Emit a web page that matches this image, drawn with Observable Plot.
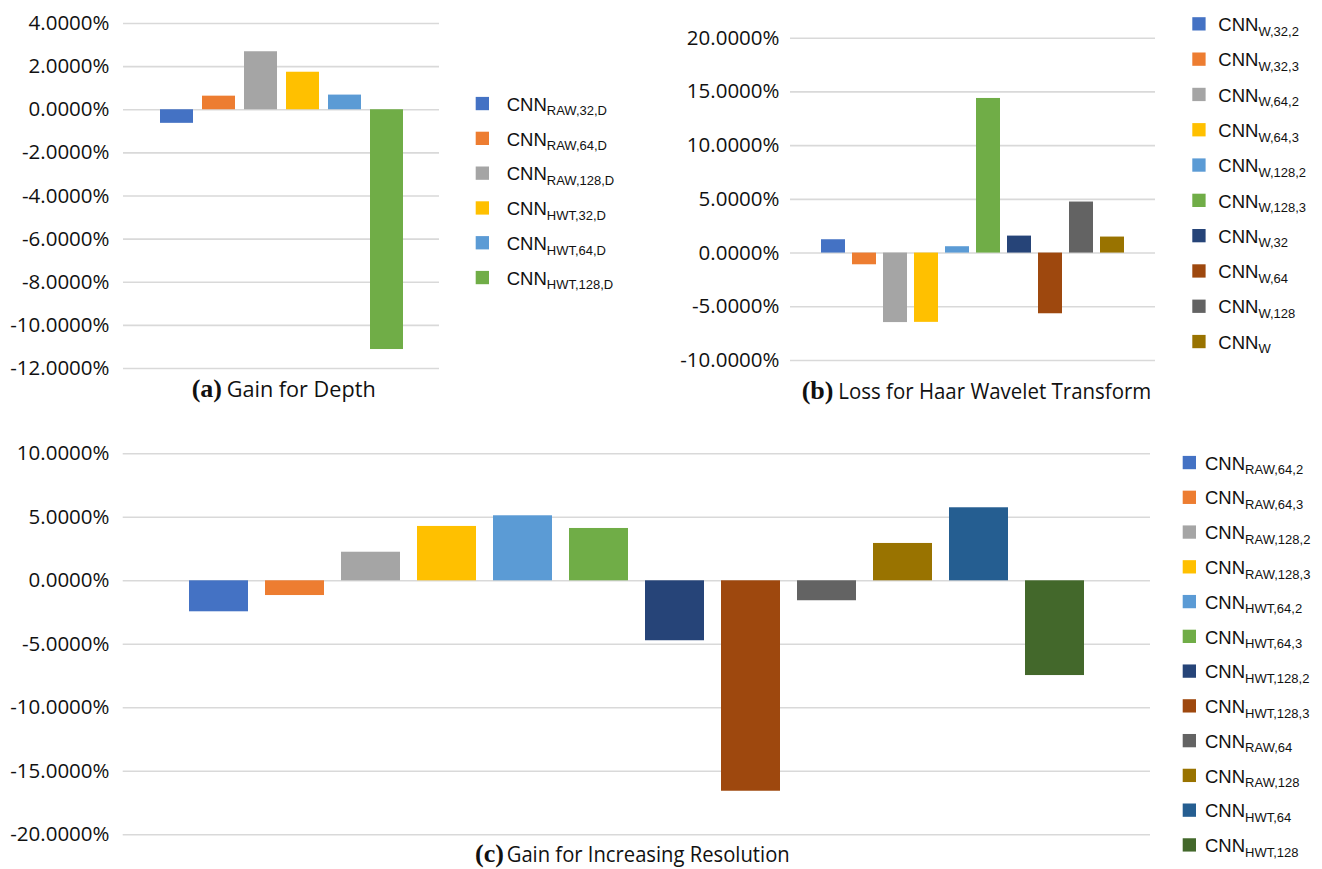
<!DOCTYPE html>
<html>
<head>
<meta charset="utf-8">
<script src="https://cdn.jsdelivr.net/npm/d3@7"></script>
<script src="https://cdn.jsdelivr.net/npm/@observablehq/plot@0.6"></script>
<style>
  html, body { margin: 0; padding: 0; background: #ffffff; }
  #fig { position: relative; width: 1322px; height: 869px; background: #ffffff; overflow: hidden; }
  #fig > svg, #fig > figure { position: absolute; margin: 0; }
  #overlay { left: 0; top: 0; pointer-events: none; }
</style>
</head>
<body>
<div id="fig"></div>
<script>
// Office colour cycle used by all three panels
const palette = ["#4472C4", "#ED7D31", "#A5A5A5", "#FFC000", "#5B9BD5", "#70AD47",
                 "#264478", "#9E480E", "#636363", "#997300", "#255E91", "#43682B"];

// (a) Gain for Depth
const depthSeries = ["RAW,32,D", "RAW,64,D", "RAW,128,D", "HWT,32,D", "HWT,64,D", "HWT,128,D"];
const depthValues = [-0.63, 0.63, 2.69, 1.74, 0.68, -11.12];
const depthTicks = [-12, -10, -8, -6, -4, -2, 0, 2, 4];

// (b) Loss for Haar Wavelet Transform
const haarSeries = ["W,32,2", "W,32,3", "W,64,2", "W,64,3", "W,128,2", "W,128,3", "W,32", "W,64", "W,128", "W"];
const haarValues = [1.24, -1.09, -6.47, -6.45, 0.59, 14.39, 1.58, -5.65, 4.75, 1.49];
const haarTicks = [-10, -5, 0, 5, 10, 15, 20];

// (c) Gain for Increasing Resolution
const resSeries = ["RAW,64,2", "RAW,64,3", "RAW,128,2", "RAW,128,3", "HWT,64,2", "HWT,64,3",
                   "HWT,128,2", "HWT,128,3", "RAW,64", "RAW,128", "HWT,64", "HWT,128"];
const resValues = [-2.44, -1.16, 2.25, 4.28, 5.12, 4.12, -4.72, -16.57, -1.57, 2.94, 5.75, -7.46];
const resTicks = [-20, -15, -10, -5, 0, 5, 10];

const fig = document.getElementById("fig");

function panel(o) {
  const data = o.series.map((s, i) => ({key: s, value: o.values[i]}));
  const colors = palette.slice(0, o.series.length);
  const chart = Plot.plot({
    width: o.width,
    height: o.height,
    marginLeft: o.marginLeft,
    marginRight: o.marginRight,
    marginTop: o.marginTop,
    marginBottom: o.marginBottom,
    style: {fontFamily: "'Open Sans', sans-serif", fontSize: "20.5px", color: "#111111", background: "transparent"},
    x: {domain: o.series, axis: null, paddingInner: 0.22, paddingOuter: 0.85},
    y: {domain: [o.ticks[0], o.ticks[o.ticks.length - 1]], ticks: o.ticks, label: null,
        tickSize: 0, tickPadding: o.tickPadding, tickFormat: d => d.toFixed(4) + "%"},
    color: {domain: o.series, range: colors},
    marks: [
      Plot.ruleY(o.ticks, {stroke: "#d9d9d9", strokeWidth: 1.6}),
      Plot.barY(data, {x: "key", y1: 0, y2: "value", fill: "key"})
    ]
  });
  chart.style.left = o.left + "px";
  chart.style.top = o.top + "px";
  fig.appendChild(chart);
}

panel({series: depthSeries, values: depthValues, ticks: depthTicks,
       left: 0, top: 0, width: 442, height: 384,
       marginLeft: 123, marginRight: 3, marginTop: 23, marginBottom: 16, tickPadding: 14});

panel({series: haarSeries, values: haarValues, ticks: haarTicks,
       left: 600, top: 0, width: 558, height: 376,
       marginLeft: 190, marginRight: 3, marginTop: 37.7, marginBottom: 16, tickPadding: 11});

panel({series: resSeries, values: resValues, ticks: resTicks,
       left: 0, top: 420, width: 1153, height: 430,
       marginLeft: 122.7, marginRight: 3, marginTop: 33.3, marginBottom: 15.7, tickPadding: 13.7});

// Legends and captions
const overlay = d3.select(fig).append("svg")
  .attr("id", "overlay")
  .attr("width", 1322).attr("height", 869);

function legend(series, swatchX, textX, firstY, step) {
  const g = overlay.append("g");
  series.forEach((s, i) => {
    const cy = firstY + i * step;
    g.append("rect")
      .attr("x", swatchX).attr("y", cy - 6.6)
      .attr("width", 13.3).attr("height", 13.3)
      .attr("fill", palette[i]);
    const t = g.append("text")
      .attr("x", textX).attr("y", cy + 7.2)
      .attr("font-family", "'Liberation Sans', Arial, sans-serif")
      .attr("font-size", 18.5)
      .attr("fill", "#111111");
    t.append("tspan").text("CNN");
    t.append("tspan").attr("font-size", 13).attr("dy", 4.6).text(s);
  });
}

legend(depthSeries, 475.7, 506.7, 103.5, 34.8);
legend(haarSeries, 1192.3, 1218.3, 23.8, 35.3);
legend(resSeries, 1182.7, 1205, 462.5, 34.76);

// Caption: bold serif panel letter followed by the sans-serif title
function caption(letter, label, letterX, labelX, labelWidth, baseline) {
  overlay.append("text")
    .attr("x", letterX).attr("y", baseline)
    .attr("font-family", "'Liberation Serif', 'Times New Roman', serif")
    .attr("font-weight", "bold").attr("font-size", 26)
    .attr("fill", "#111111")
    .text("(" + letter + ")");
  overlay.append("text")
    .attr("x", labelX).attr("y", baseline)
    .attr("font-family", "'Open Sans', sans-serif").attr("font-size", 21)
    .attr("fill", "#111111")
    .attr("textLength", labelWidth)
    .attr("lengthAdjust", "spacingAndGlyphs")
    .text(label);
}

caption("a", "Gain for Depth", 191.7, 226.7, 149, 396.5);
caption("b", "Loss for Haar Wavelet Transform", 801.7, 838.3, 313, 399);
caption("c", "Gain for Increasing Resolution", 475, 506.7, 283, 862);
</script>
</body>
</html>
